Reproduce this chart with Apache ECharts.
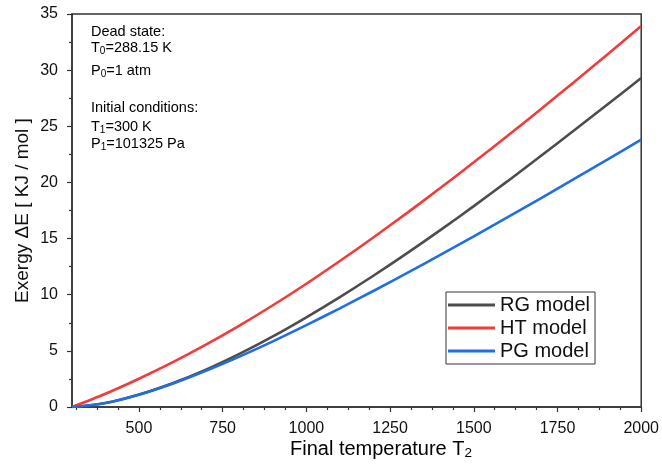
<!DOCTYPE html>
<html>
<head>
<meta charset="utf-8">
<script src="https://cdn.jsdelivr.net/npm/echarts@6/dist/echarts.min.js"></script>
<style>
html,body{margin:0;padding:0;background:#fff;}
#chart{width:662px;height:464px;}
</style>
</head>
<body>
<div id="chart"></div>
<script>
// ---- data ----
const temps = [300, 400, 500, 600, 700, 800, 900, 1000, 1100, 1200, 1300, 1400, 1500, 1600, 1700, 1800, 1900, 2000];
const rgValues = [0, 0.36, 1.11, 2.12, 3.33, 4.73, 6.29, 7.99, 9.79, 11.69, 13.68, 15.75, 17.89, 20.09, 22.35, 24.64, 26.96, 29.30];
const htValues = [0, 1.18, 2.52, 3.97, 5.55, 7.25, 9.06, 10.98, 13.00, 15.10, 17.27, 19.50, 21.79, 24.13, 26.52, 28.95, 31.42, 33.93];
const pgValues = [0, 0.35, 1.09, 2.07, 3.22, 4.49, 5.85, 7.29, 8.79, 10.33, 11.92, 13.55, 15.20, 16.88, 18.58, 20.31, 22.05, 23.81];
const seriesNames = ['RG model', 'HT model', 'PG model'];
const xTickLabels = [500, 750, 1000, 1250, 1500, 1750, 2000];
const xMin = 300, xMax = 2000, yMin = 0, yMax = 35, yStep = 5;

// minor x ticks: 3 between majors (step 62.5)
const xMinorTicks = [];
for (let v = xTickLabels[0] - 62.5 * 3; v <= xMax; v += 62.5) {
  if (v > xMin && xTickLabels.indexOf(v) < 0) xMinorTicks.push(v);
}

const FONT = 'Liberation Sans, Arial, sans-serif';
const AX = '#333333';
const colors = ['#4d4d4d', '#f23b3b', '#1f6fe0'];
const pair = (vals) => temps.map((t, i) => [t, vals[i]]);

const chart = echarts.init(document.getElementById('chart'));

const sub = {fontSize: 10, fontFamily: FONT, color: '#111', verticalAlign: 'bottom', lineHeight: 18, padding: [6, 0, 0, 0]};
const nrm = {fontSize: 14.5, fontFamily: FONT, color: '#111', lineHeight: 18};
function note(text, y) {
  return {type: 'text', left: 91, top: y, style: {text: text, rich: {n: nrm, s: sub}, font: '14.5px ' + FONT}};
}

chart.setOption({
  animation: false,
  backgroundColor: '#fff',
  grid: {left: 72, right: 20, top: 14, bottom: 57, show: true, borderColor: AX, borderWidth: 1.5, backgroundColor: 'transparent'},
  xAxis: [{
    type: 'value', min: xMin, max: xMax,
    axisLine: {show: true, lineStyle: {color: AX, width: 1.5}},
    axisTick: {show: true, inside: false, length: 5, customValues: xTickLabels, lineStyle: {color: AX, width: 1.2}},
    axisLabel: {show: true, customValues: xTickLabels, fontSize: 16, fontFamily: FONT, color: '#111', margin: 14, formatter: (v) => String(v)},
    splitLine: {show: false}
  }, {
    type: 'value', min: xMin, max: xMax, position: 'bottom',
    axisLine: {show: false},
    axisTick: {show: true, inside: false, length: 3, customValues: xMinorTicks, lineStyle: {color: AX, width: 1.2}},
    axisLabel: {show: false},
    splitLine: {show: false}
  }],
  yAxis: {
    type: 'value', min: yMin, max: yMax, interval: yStep,
    axisLine: {show: true, lineStyle: {color: AX, width: 1.5}},
    axisTick: {show: true, inside: false, length: 5, lineStyle: {color: AX, width: 1.2}},
    minorTick: {show: true, splitNumber: 2, length: 3, lineStyle: {color: AX, width: 1.2}},
    axisLabel: {fontSize: 16, fontFamily: FONT, color: '#111', margin: 14},
    splitLine: {show: false},
    name: 'Exergy ΔE [ KJ / mol ]', nameLocation: 'middle', nameGap: 40, nameRotate: 90,
    nameMoveOverlap: false,
    nameTextStyle: {fontSize: 19, fontFamily: FONT, color: '#111'}
  },
  legend: {
    orient: 'vertical', left: 446, top: 292,
    data: seriesNames,
    icon: 'rect',
    itemWidth: 47, itemHeight: 3, itemGap: 3,
    padding: [3, 5, 3, 2],
    borderColor: AX, borderWidth: 1, backgroundColor: '#fff',
    textStyle: {fontSize: 20, fontFamily: FONT, color: '#111', lineHeight: 20}
  },
  graphic: [
    note('Dead state:', 24),
    note('{n|T}{s|0}{n|=288.15 K}', 40),
    note('{n|P}{s|0}{n|=1 atm}', 63),
    note('Initial conditions:', 100),
    note('{n|T}{s|1}{n|=300 K}', 119),
    note('{n|P}{s|1}{n|=101325 Pa}', 136),
    {type: 'text', left: 290, top: 437, style: {
      text: '{n|Final temperature T}{s|2}',
      rich: {
        n: {fontSize: 20, fontFamily: FONT, color: '#111', lineHeight: 22},
        s: {fontSize: 13.5, fontFamily: FONT, color: '#111', verticalAlign: 'bottom', lineHeight: 22, padding: [9, 0, 0, 0]}
      }
    }}
  ],
  series: [
    {name: seriesNames[0], type: 'line', data: pair(rgValues), symbol: 'none', smooth: 0.3, lineStyle: {color: colors[0], width: 2.6}, itemStyle: {color: colors[0]}},
    {name: seriesNames[1], type: 'line', data: pair(htValues), symbol: 'none', smooth: 0.3, lineStyle: {color: colors[1], width: 2.6}, itemStyle: {color: colors[1]}},
    {name: seriesNames[2], type: 'line', data: pair(pgValues), symbol: 'none', smooth: 0.3, lineStyle: {color: colors[2], width: 2.6}, itemStyle: {color: colors[2]}}
  ]
});
</script>
</body>
</html>
